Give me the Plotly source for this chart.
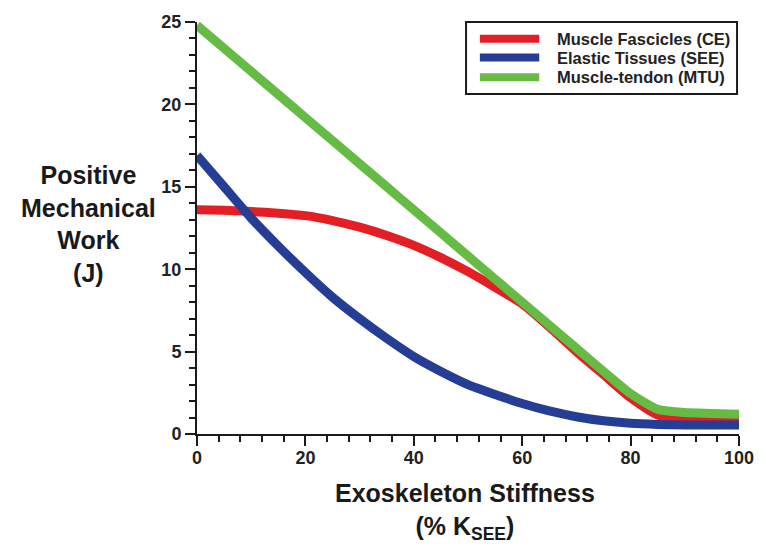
import plotly.graph_objects as go

stiffness = [0, 5, 10, 15, 20, 25, 30, 35, 40, 45, 50, 55, 60, 65, 70, 75, 80, 85, 90, 95, 100]
fascicles_ce = [13.6, 13.58, 13.5, 13.4, 13.25, 12.95, 12.55, 12.05, 11.45, 10.7, 9.85, 8.9, 7.9, 6.5, 5.0, 3.6, 2.2, 1.15, 0.95, 0.92, 0.9]
elastic_see = [16.9, 15.0, 13.1, 11.4, 9.8, 8.3, 7.0, 5.8, 4.7, 3.8, 3.0, 2.4, 1.85, 1.4, 1.05, 0.8, 0.65, 0.58, 0.55, 0.55, 0.55]
mtu = [24.8, 23.4, 22.0, 20.6, 19.2, 17.8, 16.4, 15.0, 13.6, 12.2, 10.8, 9.4, 8.0, 6.6, 5.2, 3.8, 2.45, 1.5, 1.3, 1.25, 1.2]
series_names = ["Muscle Fascicles (CE)", "Elastic Tissues (SEE)", "Muscle-tendon (MTU)"]
colors = ["#e31e24", "#263d96", "#66bb44"]
x_ticks = [0, 20, 40, 60, 80, 100]
y_ticks = [0, 5, 10, 15, 20, 25]

FONT = "Liberation Sans, Arial, sans-serif"
INK = "#1a1a1a"

fig = go.Figure()
for name, vals, col in zip(series_names, [fascicles_ce, elastic_see, mtu], colors):
    fig.add_trace(go.Scatter(x=stiffness, y=vals, mode="lines", name=name, showlegend=False,
                             line=dict(color=col, width=9, shape="spline", smoothing=0.6)))

axis_common = dict(showgrid=False, zeroline=False, showline=True, linecolor=INK, linewidth=2,
                   ticks="outside", ticklen=10, tickwidth=2, tickcolor=INK,
                   tickfont=dict(size=18, family=FONT, weight="bold", color="#222"),
                   fixedrange=True)

fig.update_layout(
    width=766, height=546,
    margin=dict(l=197, r=21, t=17, b=112),
    paper_bgcolor="white", plot_bgcolor="white",
    font=dict(family=FONT, color=INK),
    showlegend=False,
    xaxis=dict(range=[0, 100], tickmode="array", tickvals=x_ticks, ticklabelstandoff=-4,
               minor=dict(dtick=4, ticks="outside", ticklen=6, tickwidth=2, tickcolor=INK),
               **axis_common),
    yaxis=dict(range=[0, 25], tickmode="array", tickvals=y_ticks,
               minor=dict(dtick=1, ticks="outside", ticklen=6, tickwidth=2, tickcolor=INK),
               **axis_common),
)

# Legend box drawn manually
leg_x0, leg_x1, leg_y0, leg_y1 = 0.4964, 0.9964, 0.825, 1.0
fig.add_shape(type="rect", xref="paper", yref="paper", x0=leg_x0, x1=leg_x1, y0=leg_y0, y1=leg_y1,
              line=dict(color=INK, width=2), fillcolor="white", layer="above")
row_y = [0.9592, 0.9137, 0.8657]
for name, col, yy in zip(series_names, colors, row_y):
    fig.add_shape(type="line", xref="paper", yref="paper", x0=0.5219, x1=0.6314, y0=yy, y1=yy,
                  line=dict(color=col, width=8), layer="above")
    fig.add_annotation(text="<b>" + name + "</b>", xref="paper", yref="paper", x=0.6606, y=yy,
                       xanchor="left", yanchor="middle", showarrow=False,
                       font=dict(size=16.5, family=FONT, color="#222"))

fig.add_annotation(text="<b>Exoskeleton Stiffness</b><br><b>(% K<sub>SEE</sub>)</b>",
                   xref="paper", yref="paper", x=0.495, y=-0.105, xanchor="center", yanchor="top",
                   showarrow=False, font=dict(size=25, family=FONT, color=INK))
fig.add_annotation(text="<b>Positive</b><br><b>Mechanical</b><br><b>Work</b><br><b>(J)</b>",
                   xref="paper", yref="paper", x=-0.2, y=0.51, xanchor="center", yanchor="middle",
                   showarrow=False, font=dict(size=25, family=FONT, color=INK))

fig.write_html("out.html", config={"displayModeBar": False},
               post_script="document.body.style.margin='0';")
